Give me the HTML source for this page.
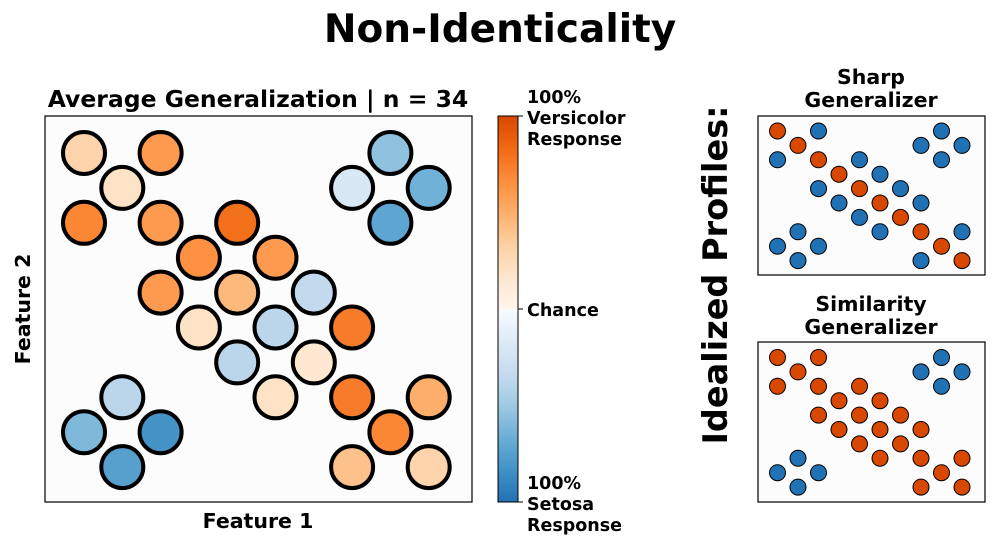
<!DOCTYPE html>
<html><head><meta charset="utf-8"><style>
body{margin:0;background:#fff;}
svg{display:block;font-family:"DejaVu Sans","Liberation Sans",sans-serif;font-weight:bold;}
</style></head><body>
<svg id="fig" width="1000" height="550" viewBox="0 0 1000 550">
<defs>
<linearGradient id="cbg" x1="0" y1="1" x2="0" y2="0">
<stop offset="0" stop-color="#2171b5"/><stop offset="0.083" stop-color="#4292c6"/><stop offset="0.167" stop-color="#6baed6"/><stop offset="0.25" stop-color="#9ecae1"/><stop offset="0.333" stop-color="#c6dbef"/><stop offset="0.417" stop-color="#deebf7"/><stop offset="0.5" stop-color="#f7fbff"/>
<stop offset="0.5" stop-color="#fff5eb"/><stop offset="0.583" stop-color="#fee6ce"/><stop offset="0.667" stop-color="#fdd0a2"/><stop offset="0.75" stop-color="#fdae6b"/><stop offset="0.833" stop-color="#fd8d3c"/><stop offset="0.917" stop-color="#f16913"/><stop offset="1" stop-color="#d94801"/>
</linearGradient>
</defs>
<text x="500" y="42" font-size="39" text-anchor="middle">Non-Identicality</text>
<text x="258" y="107" font-size="23.5" text-anchor="middle">Average Generalization | n = 34</text>
<rect x="45" y="116" width="427" height="386" fill="#fcfcfc" stroke="#000" stroke-width="1.2"/>
<g id="main"></g>
<text x="258" y="528" font-size="20.5" text-anchor="middle">Feature 1</text>
<text transform="translate(30,309) rotate(-90)" font-size="20.5" text-anchor="middle">Feature 2</text>
<rect x="498" y="116" width="20" height="386" fill="url(#cbg)" stroke="#000" stroke-width="1"/>
<g font-size="17.5">
<line x1="518" y1="116" x2="523" y2="116" stroke="#000"/><line x1="518" y1="309" x2="523" y2="309" stroke="#000"/><line x1="518" y1="502" x2="523" y2="502" stroke="#000"/>
<text x="527" y="103">100%</text><text x="527" y="124">Versicolor</text><text x="527" y="145">Response</text>
<text x="527" y="316">Chance</text>
<text x="527" y="489">100%</text><text x="527" y="510">Setosa</text><text x="527" y="531">Response</text>
</g>
<text transform="translate(727,275) rotate(-90)" font-size="33.5" text-anchor="middle">Idealized Profiles:</text>
<text x="871" y="84" font-size="20.5" text-anchor="middle">Sharp</text>
<text x="871" y="107" font-size="20.5" text-anchor="middle">Generalizer</text>
<rect x="758" y="116" width="227" height="159" fill="#fcfcfc" stroke="#000" stroke-width="1.2"/>
<g id="sharp"></g>
<text x="871" y="311" font-size="20.5" text-anchor="middle">Similarity</text>
<text x="871" y="334" font-size="20.5" text-anchor="middle">Generalizer</text>
<rect x="758" y="342" width="227" height="160" fill="#fcfcfc" stroke="#000" stroke-width="1.2"/>
<g id="sim"></g>
</svg>
<script>
// grid positions (feature indices) and responses (-1 setosa .. +1 versicolor)
const featX = [0,2,8, 1,7,9, 0,2,4,8, 3,5, 2,4,6, 3,5,7, 4,6, 1,5,7,9, 0,2,8, 1,7,9];
const featY = [0,0,0, 1,1,1, 2,2,2,2, 3,3, 4,4,4, 5,5,5, 6,6, 7,7,7,7, 8,8,8, 9,9,9];
const avgResp = [0.3,0.6,-0.55, 0.2,-0.2,-0.65, 0.7,0.6,0.8,-0.72, 0.65,0.6, 0.6,0.45,-0.35, 0.2,-0.38,0.75, -0.38,0.15, -0.38,0.2,0.75,0.5, -0.6,-0.82,0.7, -0.75,0.4,0.3];
const sharpResp = [1,-1,-1, 1,-1,-1, -1,1,-1,-1, 1,-1, -1,1,-1, -1,1,-1, -1,1, -1,-1,1,-1, -1,-1,1, -1,-1,1];
const simResp = [1,1,-1, 1,-1,-1, 1,1,1,-1, 1,1, 1,1,1, 1,1,1, 1,1, -1,1,1,1, -1,-1,1, -1,1,1];

const oranges=["#fff5eb","#fee6ce","#fdd0a2","#fdae6b","#fd8d3c","#f16913","#d94801"];
const blues=["#f7fbff","#deebf7","#c6dbef","#9ecae1","#6baed6","#4292c6","#2171b5"];
function hex(c){return [1,3,5].map(i=>parseInt(c.substr(i,2),16));}
function cmap(v){
  const s=v>=0?oranges:blues; const t=Math.min(1,Math.abs(v))*(s.length-1);
  const i=Math.min(s.length-2,Math.floor(t)), f=t-i;
  const a=hex(s[i]),b=hex(s[i+1]);
  return "rgb("+a.map((x,k)=>Math.round(x+(b[k]-x)*f)).join(",")+")";
}
const NS="http://www.w3.org/2000/svg";
function draw(gid,resp,x0,dx,y0,dy,r,sw,solid){
  const g=document.getElementById(gid);
  for(let i=0;i<resp.length;i++){
    const c=document.createElementNS(NS,"circle");
    c.setAttribute("cx",x0+featX[i]*dx);
    c.setAttribute("cy",y0+featY[i]*dy);
    c.setAttribute("r",r);
    c.setAttribute("fill",solid?(resp[i]>0?"#d94801":"#2171b5"):cmap(resp[i]));
    c.setAttribute("stroke","#000");
    c.setAttribute("stroke-width",sw);
    
    
    g.appendChild(c);
  }
}
draw("main",avgResp,84,38.3,153,34.9,21,4,false);
draw("sharp",sharpResp,777.5,20.5,131,14.4,8,1,true);
draw("sim",simResp,777.5,20.5,357.5,14.4,8,1,true);
</script>
</body></html>
